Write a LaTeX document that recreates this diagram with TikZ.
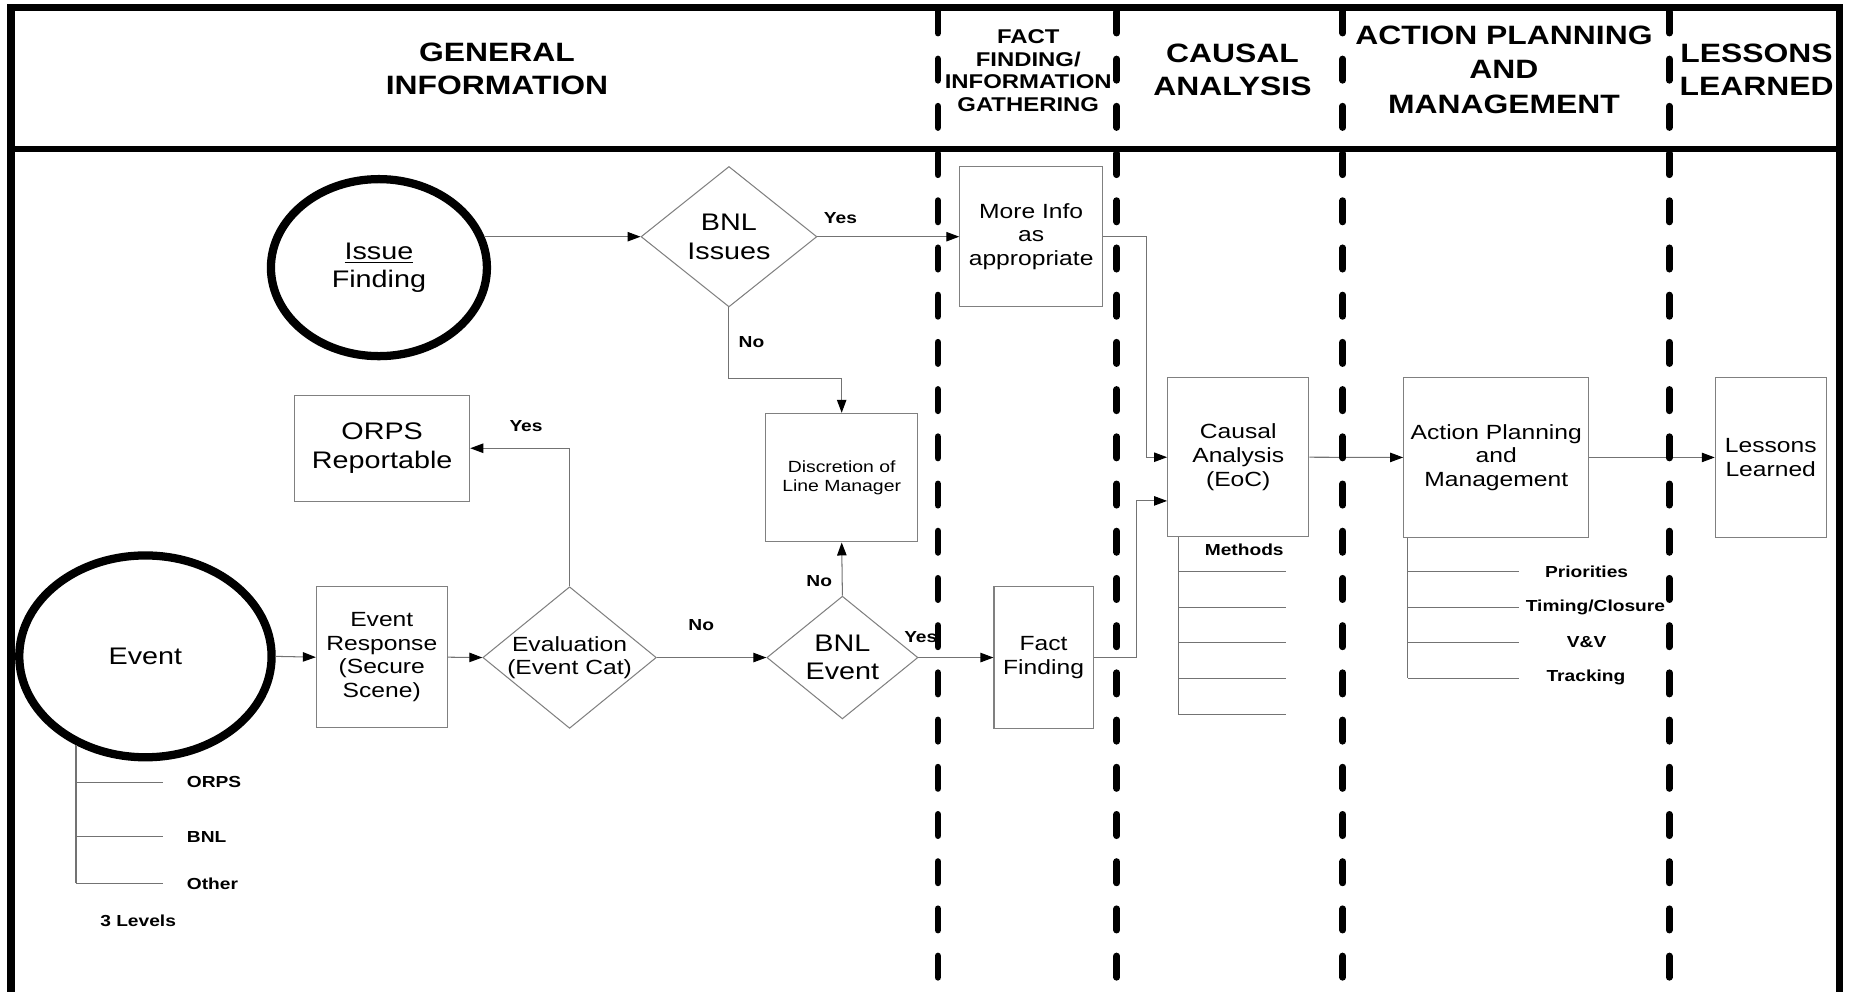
\documentclass[tikz,border=0pt]{standalone}
\usepackage{fontspec}
\setmainfont{Liberation Sans}[FakeStretch=1.2]
\usetikzlibrary{shapes.geometric,arrows.meta,calc}
\newcommand\fhd{\fontsize{12.8}{15.8}\selectfont\bfseries}
\newcommand\fhdact{\fontsize{12.8}{16.5}\selectfont\bfseries}
\newcommand\fhdfact{\fontsize{9.6}{10.9}\selectfont\bfseries}
\newcommand\fbig{\fontsize{11.55}{13.8}\selectfont}
\newcommand\fbody{\fontsize{9.9}{11.4}\selectfont}
\newcommand\fdisc{\fontsize{7.8}{8.9}\selectfont}
\newcommand\flab{\fontsize{7.7}{9}\selectfont\bfseries}
\begin{document}
\begin{tikzpicture}[x=0.02cm,y=-0.02cm,
  frame/.style={line width=0.125cm},
  lane/.style={line width=0.115cm, dash pattern=on 0.36cm off 0.44cm, line cap=round},
  hd/.style={align=center, inner sep=0pt, font=\fhd},
  boxst/.style={draw=black!50, line width=0.5pt, rectangle, inner sep=0pt, align=center, font=\fbody},
  ell/.style={draw=black, line width=0.14cm, ellipse, inner sep=0pt, align=center, font=\fbig},
  dia/.style={draw=black!50, line width=0.5pt, diamond, inner sep=0pt, align=center},
  conn/.style={draw=black!55, line width=0.5pt},
  arr/.style={conn, -{Triangle[length=0.22cm, width=0.16cm, color=black]}},
  lab/.style={inner sep=0pt, font=\flab}
]
\useasboundingbox (0,0) rectangle (1568,840);

% frame and header
\draw[frame] (9.3,840) -- (9.3,6.5) -- (1558,6.5) -- (1558,840);
\draw[line width=0.1cm] (9.3,126) -- (1558,126);

\node[hd] (hgen) at (421,58.3) {GENERAL\\INFORMATION};
\node[hd, font=\fhdfact] (hfact) at (871,60) {FACT\\FINDING/\\INFORMATION\\GATHERING};
\node[hd] (hcaus) at (1044,59) {CAUSAL\\ANALYSIS};
\node[hd, font=\fhdact] (hact) at (1274,59) {ACTION PLANNING\\AND\\MANAGEMENT};
\node[hd] (hles) at (1488,59) {LESSONS\\LEARNED};

% main nodes
\node[ell, minimum width=3.66cm, minimum height=3.0cm] (issue) at (321,226.7) {\underline{Issue}\\Finding};
\node[dia, font=\fbig, aspect=1.25, minimum width=2.98cm, minimum height=2.38cm] (bnli) at (617.5,200.5) {BNL\\Issues};
\node[boxst, minimum width=2.42cm, minimum height=2.38cm] (more) at (873.5,200.5) {More Info\\as\\appropriate};
\node[boxst, font=\fdisc, minimum width=2.58cm, minimum height=2.18cm] (disc) at (713,404.6) {Discretion of\\Line Manager};
\node[boxst, font=\fbig, minimum width=2.97cm, minimum height=1.79cm] (orps) at (323.7,379.7) {ORPS\\Reportable};
\node[ell, minimum width=4.276cm, minimum height=3.42cm] (event) at (123.2,556) {Event};
\node[boxst, minimum width=2.216cm, minimum height=2.388cm] (evresp) at (323.4,556.7) {Event\\Response\\(Secure\\Scene)};
\node[dia, font=\fbody, aspect=1.225, inner xsep=-2pt, minimum width=2.94cm, minimum height=2.40cm] (eval) at (482.5,557) {Evaluation\\(Event Cat)};
\node[dia, font=\fbig, aspect=1.23, minimum width=2.56cm, minimum height=2.08cm] (bnle) at (713.6,557) {BNL\\Event};
\node[boxst, minimum width=1.68cm, minimum height=2.40cm] (fact) at (884,557) {Fact\\Finding};
\node[boxst, minimum width=2.394cm, minimum height=2.692cm] (causal) at (1048.9,387.3) {Causal\\Analysis\\(EoC)};
\node[boxst, minimum width=3.14cm, minimum height=2.70cm] (action) at (1267.5,387.5) {Action Planning\\and\\Management};
\node[boxst, minimum width=1.88cm, minimum height=2.70cm] (lessons) at (1500,387.5) {Lessons\\Learned};

% connectors
\draw[arr] ($(issue.east |- bnli.west)+(-6,0)$) -- (bnli.west);
\draw[arr] (bnli.east) -- (more.west);
\draw[arr] (bnli.south) -- ++(0,60) -| (disc.north);
\draw[arr] (bnle.north) -- (disc.south);
\draw[arr] (event.east) -- (evresp.west);
\draw[arr] (evresp.east) -- (eval.west);
\draw[arr] (eval.north) |- (orps.east);
\draw[arr] (eval.east) -- (bnle.west);
\draw[arr] (bnle.east) -- (fact.west);
\draw[arr] (more.east) -- ++(37,0) |- (causal.west);
\draw[arr] (fact.east) -- ++(36,0) |- ($(causal.west)+(0,37)$);
\draw[arr] (causal.east) -- (action.west);
\draw[arr] (action.east) -- (lessons.west);

% connector labels
\node[lab] (y1) at (712,185) {Yes};
\node[lab] (n1) at (636.6,290) {No};
\node[lab] (y2) at (445.6,361) {Yes};
\node[lab] (n2) at (594,529.6) {No};
\node[lab] (n3) at (694,492) {No};
\node[lab] (y3) at (780,540) {Yes};

% event levels
\path (event.232) coordinate (ev0);
\node[lab, anchor=west] (lv1) at (158,662.7) {ORPS};
\node[lab, anchor=west] (lv2) at (158,708.8) {BNL};
\node[lab, anchor=west] (lv3) at (158,748.3) {Other};
\node[lab] (lvls) at (117,779.6) {3 Levels};
\draw[conn] (ev0) -- (ev0 |- lv3.west);
\draw[conn] (ev0 |- lv1.west) -- ++(73.6,0);
\draw[conn] (ev0 |- lv2.west) -- ++(73.6,0);
\draw[conn] (ev0 |- lv3.west) -- ++(73.6,0);

% methods
\coordinate (m0) at ([xshift=0.19cm]causal.south west);
\node[lab] (meth) at (1054,466) {Methods};
\draw[conn] (m0) -- ++(0,150.4);
\foreach \d in {29.4,59.9,89.4,119.4,150.4}
  \draw[conn] (m0) ++(0,\d) -- ++(91.6,0);

% action list
\coordinate (a0) at ([xshift=0.08cm]action.south west);
\node[lab] (pri) at (1344,484) {Priorities};
\node[lab] (tim) at (1351.5,514.5) {Timing/Closure};
\node[lab] (vv) at (1344,544) {V\&V};
\node[lab] (trk) at (1343.5,574) {Tracking};
\draw[conn] (a0) -- ++(0,119);
\foreach \d in {29,59.5,89,119}
  \draw[conn] (a0) ++(0,\d) -- ++(94,0);

% lanes
\foreach \lx in {794.5,946,1137.5,1414}
  \draw[lane] (\lx,10) -- (\lx,840);
\end{tikzpicture}
\end{document}
